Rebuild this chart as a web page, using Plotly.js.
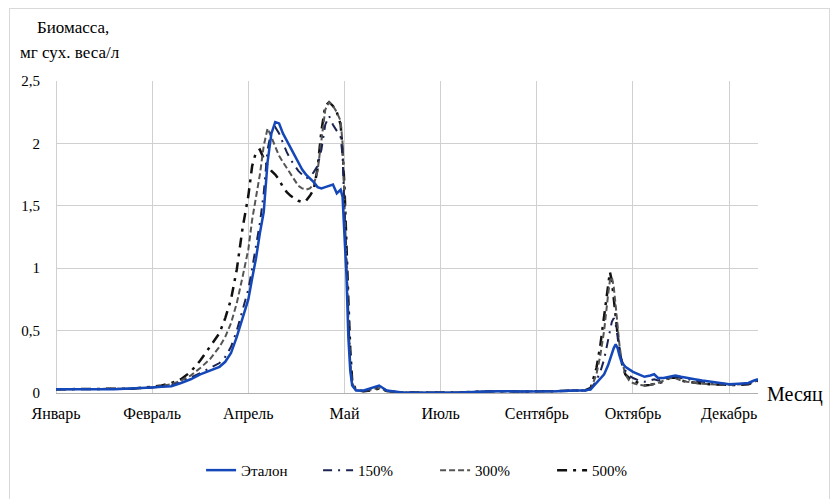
<!DOCTYPE html>
<html>
<head>
<meta charset="utf-8">
<script src="https://cdn.plot.ly/plotly-3.0.1.min.js"></script>
<style>
html,body{margin:0;padding:0;background:#fff;}
#wrap{position:relative;width:831px;height:499px;}
#chart{width:831px;height:499px;}
#frame{position:absolute;left:9px;top:8px;width:819px;height:500px;border:1px solid #d9d9d9;border-bottom:none;pointer-events:none;}
text{font-family:'Liberation Serif' !important;}
</style>
</head>
<body>
<div id="wrap"><div id="chart"></div><div id="frame"></div></div>
<script>
// Day of year
const days = [0,10,20,30,40,50,55,60,65,70,75,80,85,88,91,94,97,100,102,104,106,108,110,112,114,116,118,120,122,124,126,128,130,132,134,136,138,140,142,144,146,148,149,150,151,152,153,154,156,160,164,168,172,176,180,190,200,210,220,230,240,250,260,270,275,278,281,283,285,287,288,289,290,291,292,293,294,296,298,300,303,306,309,311,313,316,319,322,325,328,332,336,340,345,350,355,360,363,365];

const etalon = [0.03,0.028,0.03,0.03,0.035,0.045,0.05,0.055,0.08,0.11,0.15,0.18,0.21,0.25,0.32,0.45,0.6,0.75,0.92,1.08,1.28,1.45,1.85,2.08,2.17,2.16,2.08,2.02,1.96,1.9,1.84,1.79,1.75,1.72,1.69,1.65,1.64,1.65,1.66,1.67,1.6,1.63,1.57,1.3,0.95,0.45,0.18,0.06,0.02,0.02,0.04,0.06,0.02,0.01,0.005,0.003,0.003,0.005,0.01,0.015,0.012,0.012,0.015,0.02,0.02,0.03,0.08,0.12,0.15,0.22,0.27,0.31,0.36,0.39,0.36,0.3,0.25,0.21,0.19,0.17,0.15,0.13,0.14,0.15,0.12,0.12,0.13,0.14,0.13,0.12,0.11,0.1,0.09,0.08,0.07,0.075,0.08,0.1,0.11];

const p150 = [0.03,0.03,0.03,0.03,0.035,0.045,0.05,0.06,0.085,0.12,0.16,0.2,0.24,0.29,0.37,0.5,0.66,0.83,1.0,1.17,1.36,1.6,1.95,2.1,2.13,2.08,2.0,1.93,1.87,1.82,1.78,1.75,1.72,1.73,1.77,1.82,1.95,2.15,2.22,2.15,2.1,2.05,1.9,1.5,1.0,0.55,0.22,0.07,0.02,0.015,0.03,0.05,0.02,0.008,0.005,0.003,0.003,0.005,0.01,0.015,0.012,0.012,0.015,0.02,0.02,0.03,0.1,0.17,0.27,0.42,0.5,0.57,0.6,0.55,0.45,0.35,0.27,0.18,0.14,0.12,0.1,0.09,0.1,0.11,0.1,0.11,0.13,0.13,0.12,0.11,0.1,0.09,0.085,0.075,0.07,0.07,0.075,0.09,0.1];

const p300 = [0.03,0.03,0.03,0.03,0.035,0.045,0.055,0.07,0.1,0.14,0.2,0.27,0.37,0.45,0.56,0.72,0.93,1.15,1.39,1.57,1.75,1.98,2.12,2.05,1.97,1.9,1.85,1.8,1.75,1.7,1.66,1.64,1.63,1.64,1.67,1.78,2.05,2.27,2.33,2.3,2.25,2.18,2.0,1.6,1.05,0.6,0.25,0.08,0.02,0.015,0.025,0.04,0.015,0.008,0.005,0.003,0.003,0.005,0.01,0.015,0.012,0.012,0.015,0.02,0.02,0.03,0.15,0.3,0.5,0.78,0.9,0.93,0.85,0.7,0.52,0.38,0.27,0.15,0.1,0.08,0.065,0.06,0.065,0.07,0.08,0.1,0.12,0.12,0.1,0.09,0.08,0.075,0.07,0.065,0.065,0.068,0.075,0.09,0.1];

const p500 = [0.03,0.03,0.03,0.03,0.035,0.05,0.06,0.08,0.11,0.17,0.26,0.37,0.48,0.6,0.75,0.99,1.32,1.58,1.82,1.93,1.95,1.88,1.82,1.78,1.75,1.71,1.65,1.61,1.58,1.56,1.54,1.53,1.54,1.58,1.63,1.8,2.1,2.3,2.33,2.3,2.25,2.15,1.95,1.65,1.15,0.75,0.35,0.1,0.02,0.015,0.02,0.035,0.015,0.008,0.005,0.003,0.003,0.005,0.01,0.015,0.012,0.012,0.015,0.02,0.02,0.04,0.2,0.38,0.6,0.86,0.97,0.9,0.75,0.6,0.45,0.33,0.25,0.15,0.12,0.1,0.08,0.06,0.065,0.07,0.08,0.09,0.12,0.125,0.1,0.09,0.08,0.075,0.07,0.066,0.065,0.065,0.07,0.085,0.1];

const tickDays = [0,50,100,150,200,250,300,350];
const tickMonths = ['Январь','Февраль','Апрель','Май','Июль','Сентябрь','Октябрь','Декабрь'];
const seriesNames = ['Эталон','150%','300%','500%'];

const FONT = 'Liberation Serif';

const traces = [
  {x: days, y: p500, name: seriesNames[3], legendrank: 4, mode: 'lines',
   line: {color: '#111111', width: 2.5, dash: '10px,6px,3px,6px'}},
  {x: days, y: p300, name: seriesNames[2], legendrank: 3, mode: 'lines',
   line: {color: '#555555', width: 2, dash: '6px,3px'}},
  {x: days, y: p150, name: seriesNames[1], legendrank: 2, mode: 'lines',
   line: {color: '#1c2452', width: 2, dash: '9px,6px,2px,6px'}},
  {x: days, y: etalon, name: seriesNames[0], legendrank: 1, mode: 'lines',
   line: {color: '#1447b8', width: 2.5}}
];

const layout = {
  width: 831, height: 499,
  margin: {l: 56, r: 73, t: 81, b: 105.5},
  paper_bgcolor: '#fff', plot_bgcolor: '#fff',
  separators: ', ',
  font: {family: FONT, size: 14, color: '#000'},
  showlegend: true,
  legend: {orientation: 'h', x: 0.54, xanchor: 'center', y: -0.248, yanchor: 'middle',
           font: {family: FONT, size: 15, color: '#000'}, entrywidth: 72, entrywidthmode: 'pixels',
           traceorder: 'normal'},
  xaxis: {range: [0, 365], tickvals: tickDays, ticktext: tickMonths,
          showgrid: true, gridcolor: '#d0d0d0', gridwidth: 1,
          zeroline: true, zerolinecolor: '#d0d0d0', zerolinewidth: 1,
          showline: true, linecolor: '#b0b0b0', linewidth: 1,
          ticks: 'outside', ticklen: 6, tickcolor: 'rgba(0,0,0,0)',
          tickfont: {family: FONT, size: 16, color: '#000'}, fixedrange: true},
  yaxis: {range: [0, 2.5], dtick: 0.5, tick0: 0,
          showgrid: true, gridcolor: '#d0d0d0', gridwidth: 1,
          zeroline: false, showline: false,
          ticks: 'outside', ticklen: 12, tickcolor: 'rgba(0,0,0,0)',
          tickfont: {family: FONT, size: 15, color: '#000'}, fixedrange: true},
  annotations: [
    {text: 'Биомасса,', xref: 'paper', yref: 'paper', x: (35-56)/702, y: (393.5-27)/312.5,
     xanchor: 'left', yanchor: 'middle', showarrow: false, font: {family: FONT, size: 17, color: '#000'}},
    {text: 'мг сух. веса/л', xref: 'paper', yref: 'paper', x: (18-56)/702, y: (393.5-52)/312.5,
     xanchor: 'left', yanchor: 'middle', showarrow: false, font: {family: FONT, size: 17, color: '#000'}},
    {text: 'Месяц', xref: 'paper', yref: 'paper', x: (765-56)/702, y: (393.5-395)/312.5,
     xanchor: 'left', yanchor: 'middle', showarrow: false, font: {family: FONT, size: 20, color: '#000'}}
  ]
};

Plotly.newPlot('chart', traces, layout, {displayModeBar: false, staticPlot: true});
</script>
</body>
</html>
